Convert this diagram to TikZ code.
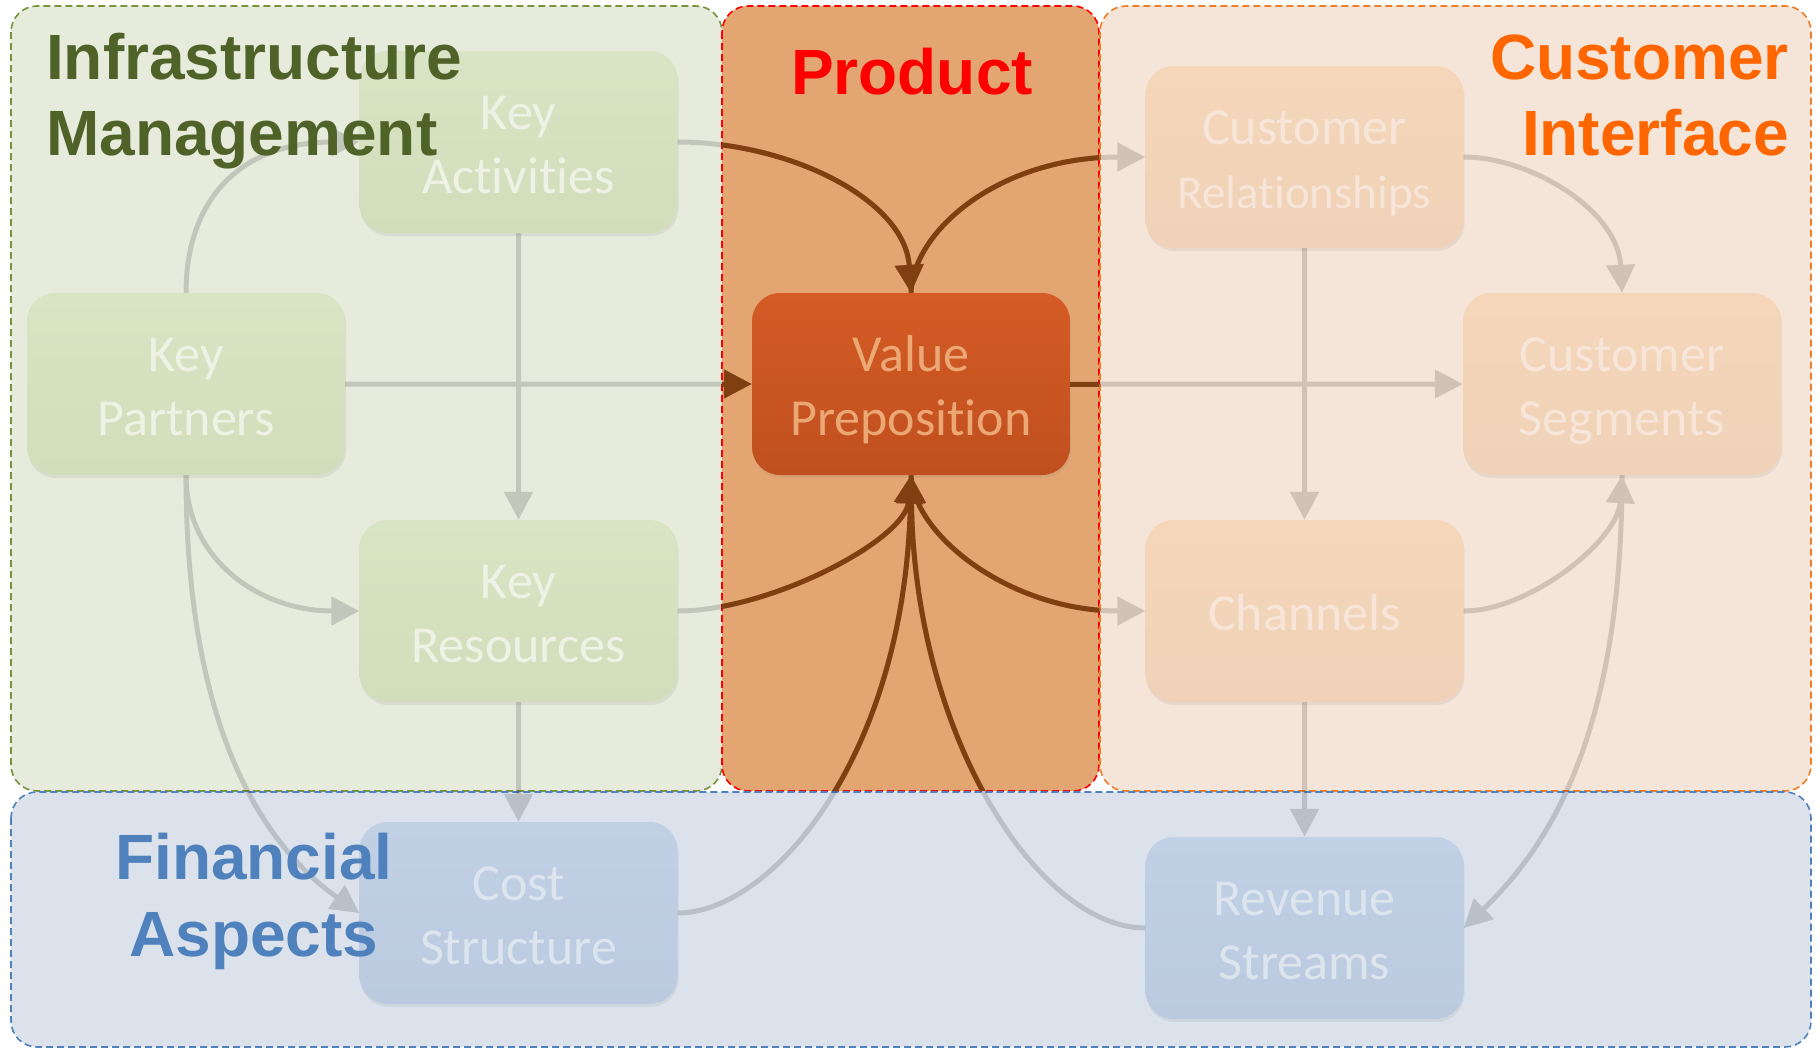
\documentclass[tikz,border=0pt]{standalone}
\usepackage{fontspec}
\setmainfont{Carlito}[Ligatures={NoCommon,NoRequired,NoContextual}]
\newfontfamily\titlefont{Liberation Sans}
\usetikzlibrary{arrows.meta,shadows}

\definecolor{greenReg}{HTML}{E6EBDC}
\definecolor{greenBorder}{HTML}{77933C}
\definecolor{greenTop}{HTML}{D9E4C4}
\definecolor{greenBot}{HTML}{D2DDBB}
\definecolor{greenText}{HTML}{EEF2E5}
\definecolor{prodReg}{HTML}{E3A572}
\definecolor{prodBorder}{HTML}{FF0000}
\definecolor{vpTop}{HTML}{D45B25}
\definecolor{vpBot}{HTML}{C0501F}
\definecolor{vpText}{HTML}{EBA874}
\definecolor{custReg}{HTML}{F5E5D8}
\definecolor{custBorder}{HTML}{F07D28}
\definecolor{custTop}{HTML}{F5D6B9}
\definecolor{custBot}{HTML}{EFD2B8}
\definecolor{custText}{HTML}{F6E5D8}
\definecolor{finReg}{HTML}{DBE2EC}
\definecolor{finBorder}{HTML}{4F81BD}
\definecolor{finTop}{HTML}{C0D0E5}
\definecolor{finBot}{HTML}{BBCADF}
\definecolor{finText}{HTML}{DCE4EE}
\definecolor{brownLine}{HTML}{7F3F10}
\definecolor{tInfra}{HTML}{4F6228}
\definecolor{tProd}{HTML}{FF0000}
\definecolor{tCust}{HTML}{FF6600}
\definecolor{tFin}{HTML}{4F81BD}

% fixed line strut for node texts
\newcommand\lnst{\rule[-10pt]{0pt}{58pt}}

\begin{document}
\begin{tikzpicture}[x=1pt,y=-1pt,
  region/.style={rounded corners=26pt, line width=1.6pt, dash pattern=on 7pt off 4pt},
  box/.style={rounded corners=28pt, minimum width=318pt, minimum height=182pt,
    inner sep=0pt, align=center, font=\fontsize{52}{64}\selectfont,
    drop shadow={shadow xshift=1pt, shadow yshift=-3pt, opacity=0.12}},
  gbox/.style={box, top color=greenTop, bottom color=greenBot, text=greenText},
  vbox/.style={box, top color=vpTop, bottom color=vpBot, text=vpText},
  cbox/.style={box, top color=custTop, bottom color=custBot, text=custText},
  fbox/.style={box, top color=finTop, bottom color=finBot, text=finText},
  title/.style={inner sep=0pt, font=\titlefont\bfseries\fontsize{64}{76}\selectfont},
  conn/.style={line width=5pt, -{Triangle[length=28pt,width=28pt]}}
]
\useasboundingbox (0,0) rectangle (1820,1050);
\fill[white] (0,0) rectangle (1820,1050);

% regions
\filldraw[region, fill=greenReg, draw=greenBorder] (11,6) rectangle (722,791);
\filldraw[region, fill=prodReg, draw=prodBorder] (722,6) rectangle (1099,791);
\filldraw[region, fill=custReg, draw=custBorder] (1100,6) rectangle (1811,791);
\filldraw[region, fill=finReg, draw=finBorder] (11,792) rectangle (1811,1047);

% nodes
\node[gbox] (ka) at (518.5,142) {\lnst Key\\\lnst Activities};
\node[gbox] (kp) at (186,384) {\lnst Key\\\lnst Partners};
\node[gbox] (kr) at (518.5,611) {\lnst Key\\\lnst Resources};
\node[fbox] (cost) at (518.5,913) {\lnst Cost\\\lnst Structure};
\node[vbox] (vp) at (911,384) {\lnst Value\\\lnst Preposition};
\node[cbox] (cr) at (1304.5,157) {\lnst Customer\\\lnst{\fontsize{47}{64}\selectfont Relationships}};
\node[cbox] (cseg) at (1622,384) {\lnst Customer\\\lnst Segments};
\node[cbox] (ch) at (1304.5,611) {\lnst Channels};
\node[fbox] (rs) at (1304.5,928) {\lnst Revenue\\\lnst Streams};

\newcommand\allconnectors{%
  \draw[conn] (kp.north) .. controls (186,200) and (240,142) .. (ka.west);
  \draw[conn] (ka.south) -- (kr.north);
  \draw[conn] (kp.east) -- (vp.west);
  \draw[conn] (kp.south) .. controls (186,560) and (260,611) .. (kr.west);
  \draw[conn] (kp.south) .. controls (186,740) and (270,850) .. (cost.west);
  \draw[conn] (kr.south) -- (cost.north);
  \draw[conn] (kr.east) .. controls (770,611) and (905,540) .. (vp.south);
  \draw[conn] (cost.east) .. controls (770,913) and (905,760) .. (vp.south);
  \draw[conn] (rs.west) .. controls (1040,928) and (915,740) .. (vp.south);
  \draw[conn] (vp.south) .. controls (913,535) and (1010,611) .. (ch.west);
  \draw[conn] (ka.east) .. controls (790,142) and (905,200) .. (vp.north);
  \draw[conn] (vp.north) .. controls (913,230) and (1000,157) .. (cr.west);
  \draw[conn] (vp.east) -- (cseg.west);
  \draw[conn] (cr.south) -- (ch.north);
  \draw[conn] (cr.east) .. controls (1530,157) and (1618,210) .. (cseg.north);
  \draw[conn] (ch.east) .. controls (1530,611) and (1618,540) .. (cseg.south);
  \draw[conn] (ch.south) -- (rs.north);
  \draw[conn] (cseg.south) .. controls (1622,740) and (1545,850) .. (rs.east);
}

% faded connectors everywhere
\begin{scope}[transparency group, opacity=0.15]
  \tikzset{conn/.append style={color=black}}
  \allconnectors
\end{scope}

% highlighted connectors inside the product region
\begin{scope}
  \clip[rounded corners=26pt] (722,6) rectangle (1099,791);
  \tikzset{conn/.append style={color=brownLine}}
  \allconnectors
\end{scope}

% titles
\node[title, text=tInfra, anchor=base west] (ti1) at (46,79) {Infrastructure};
\node[title, text=tInfra, anchor=base west] (ti2) at (46,155) {Management};
\node[title, text=tProd, anchor=base] (tp) at (912,94) {Product};
\node[title, text=tCust, anchor=base east] (tc1) at (1789,79) {Customer};
\node[title, text=tCust, anchor=base east] (tc2) at (1789,155) {Interface};
\node[title, text=tFin, anchor=base] (tf1) at (254,879) {Financial};
\node[title, text=tFin, anchor=base] (tf2) at (254,956) {Aspects};
\end{tikzpicture}
\end{document}
